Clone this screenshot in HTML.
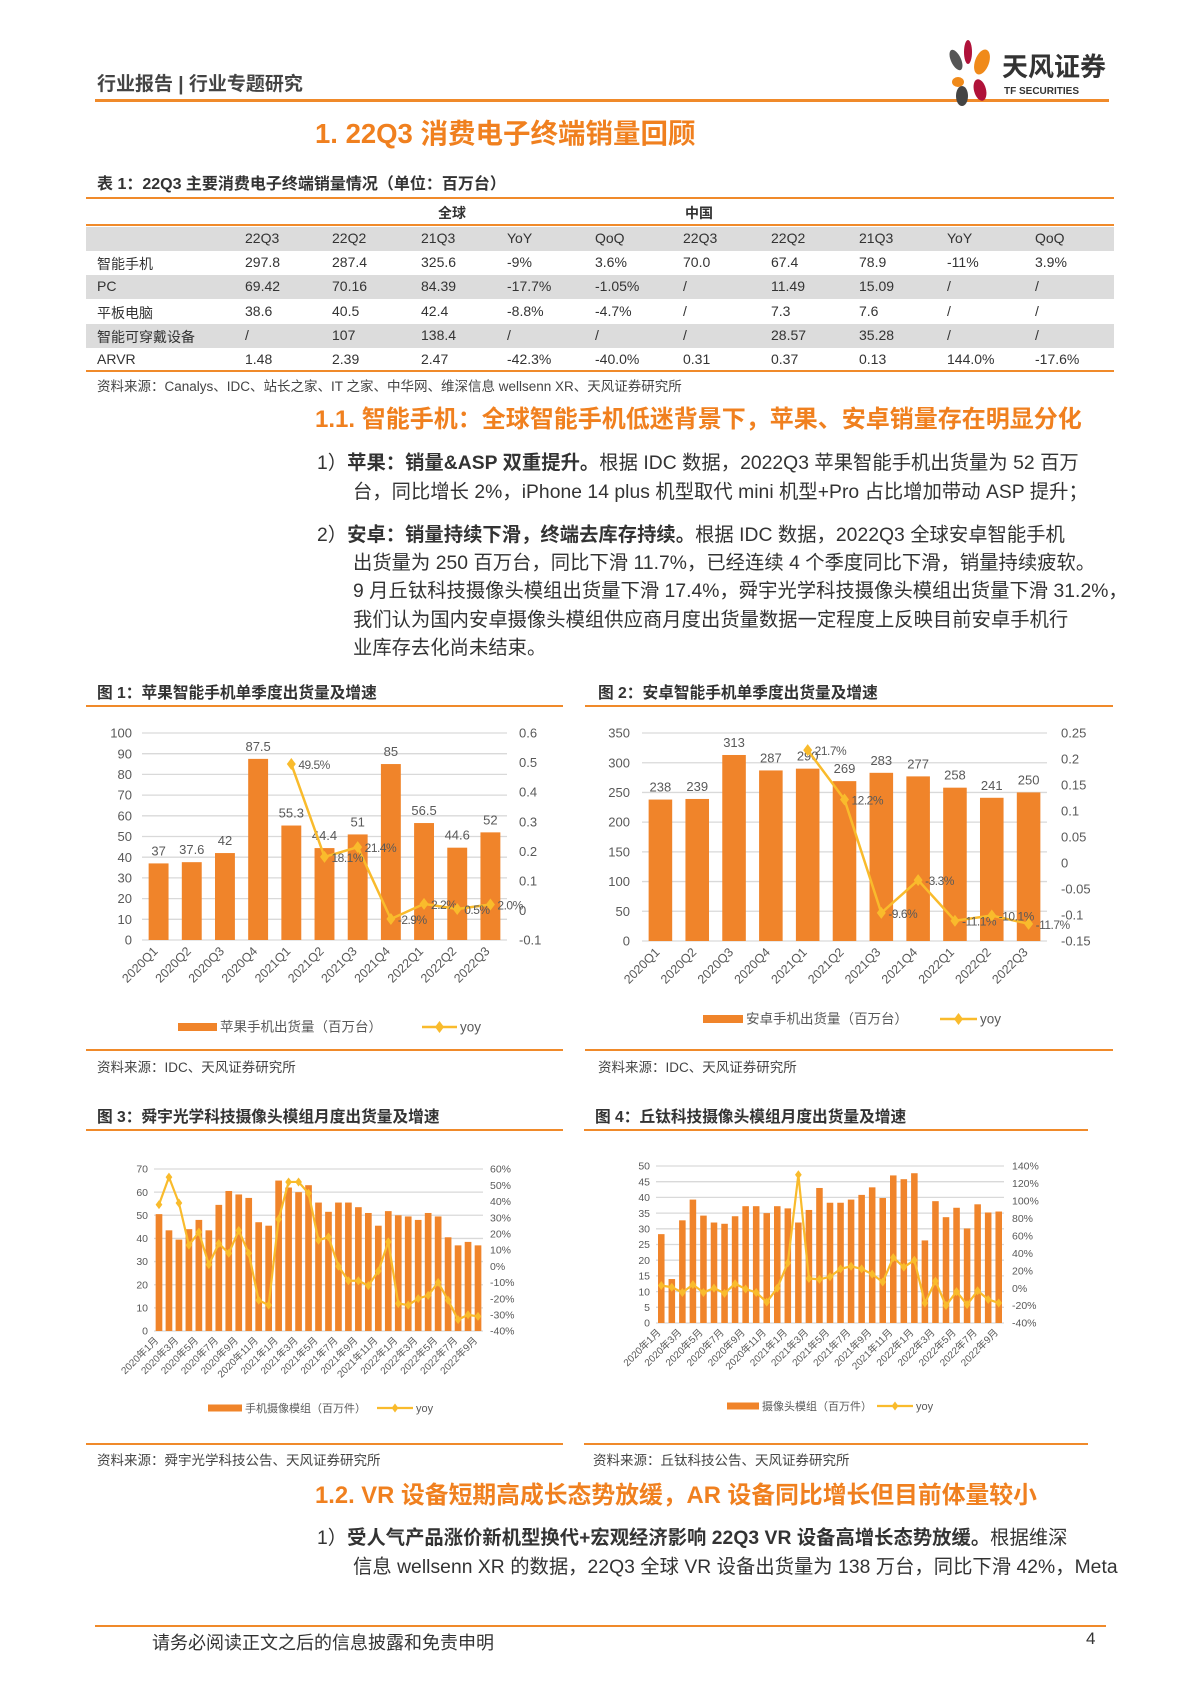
<!DOCTYPE html>
<html><head><meta charset="utf-8">
<style>
body{margin:0;background:#fff;}
#page{position:relative;width:1190px;height:1683px;overflow:hidden;font-family:"Liberation Sans","Noto Sans CJK SC",sans-serif;color:#333;}
.t{position:absolute;white-space:nowrap;}
.hl{position:absolute;height:2px;background:#f08a2a;}
.sec{color:#f0801f;font-size:24px;font-weight:bold;}
.p{font-size:19.3px;color:#333;letter-spacing:0.05px;}
.p b{font-weight:bold;}
.row{position:absolute;left:86px;width:1028px;height:24px;}
.cell{position:absolute;font-size:14px;top:3px;}
svg text{font-family:"Liberation Sans","Noto Sans CJK SC",sans-serif;}
</style></head>
<body>
<div id="page">
<div class="t" style="left:97px;top:69px;font-size:19px;font-weight:bold;color:#444;">行业报告 | 行业专题研究</div>
<div class="hl" style="left:95px;top:99px;width:1014px;height:3px;"></div>
<svg style="position:absolute;left:940px;top:38px" width="175" height="70">
<ellipse cx="16" cy="22" rx="5" ry="11" fill="#555" transform="rotate(-25 16 22)"/>
<ellipse cx="28" cy="14" rx="4" ry="12" fill="#b0123a"/>
<ellipse cx="42" cy="24" rx="7" ry="13" fill="#f08a1a" transform="rotate(20 42 24)"/>
<ellipse cx="18" cy="44" rx="6" ry="5" fill="#f08a1a"/>
<ellipse cx="22" cy="58" rx="6" ry="10" fill="#444"/>
<ellipse cx="40" cy="52" rx="6" ry="11" fill="#b0123a" transform="rotate(-15 40 52)"/>
<text x="62" y="38" font-size="26" font-weight="bold" fill="#333">天风证券</text>
<text x="64" y="56" font-size="10" font-weight="bold" fill="#333">TF SECURITIES</text>
</svg>
<div class="t" style="left:315px;top:111px;font-size:27.5px;font-weight:bold;color:#f0801f;">1. 22Q3 消费电子终端销量回顾</div>
<div class="t" style="left:97px;top:170px;font-size:16px;font-weight:bold;color:#333;">表 1：22Q3 主要消费电子终端销量情况（单位：百万台）</div>
<div class="hl" style="left:86px;top:197px;width:1028px;"></div>
<div class="t" style="left:438px;top:203px;font-size:14px;font-weight:bold;">全球</div>
<div class="t" style="left:685px;top:203px;font-size:14px;font-weight:bold;">中国</div>
<div class="hl" style="left:86px;top:224px;width:1028px;"></div>
<div id="tbl"></div>
<div class="hl" style="left:86px;top:370px;width:1028px;height:1.5px;"></div>
<div class="t" style="left:97px;top:375px;font-size:13.5px;color:#444;">资料来源：Canalys、IDC、站长之家、IT 之家、中华网、维深信息 wellsenn XR、天风证券研究所</div>
<div class="t sec" style="left:315px;top:399px;">1.1. 智能手机：全球智能手机低迷背景下，苹果、安卓销量存在明显分化</div>
<div class="t p" style="left:317px;top:449px;line-height:29px;">1）<b>苹果：销量&amp;ASP 双重提升。</b>根据 IDC 数据，2022Q3 苹果智能手机出货量为 52 百万<br><span style="padding-left:36px">台，同比增长 2%，iPhone 14 plus 机型取代 mini 机型+Pro 占比增加带动 ASP 提升；</span></div>
<div class="t p" style="left:317px;top:522px;line-height:28.2px;">2）<b>安卓：销量持续下滑，终端去库存持续。</b>根据 IDC 数据，2022Q3 全球安卓智能手机<br><span style="padding-left:36px">出货量为 250 百万台，同比下滑 11.7%，已经连续 4 个季度同比下滑，销量持续疲软。</span><br><span style="padding-left:36px">9 月丘钛科技摄像头模组出货量下滑 17.4%，舜宇光学科技摄像头模组出货量下滑 31.2%，</span><br><span style="padding-left:36px">我们认为国内安卓摄像头模组供应商月度出货量数据一定程度上反映目前安卓手机行</span><br><span style="padding-left:36px">业库存去化尚未结束。</span></div>

<div class="t" style="left:97px;top:680px;font-size:15.7px;font-weight:bold;">图 1：苹果智能手机单季度出货量及增速</div>
<div class="hl" style="left:86px;top:705px;width:477px;"></div>
<div class="t" style="left:598px;top:680px;font-size:15.7px;font-weight:bold;">图 2：安卓智能手机单季度出货量及增速</div>
<div class="hl" style="left:585px;top:705px;width:528px;"></div>
<div class="hl" style="left:86px;top:1049px;width:477px;height:1.5px;"></div>
<div class="hl" style="left:585px;top:1049px;width:528px;height:1.5px;"></div>
<div class="t" style="left:97px;top:1056px;font-size:13.5px;color:#444;">资料来源：IDC、天风证券研究所</div>
<div class="t" style="left:598px;top:1056px;font-size:13.5px;color:#444;">资料来源：IDC、天风证券研究所</div>

<div class="t" style="left:97px;top:1104px;font-size:15.7px;font-weight:bold;">图 3：舜宇光学科技摄像头模组月度出货量及增速</div>
<div class="hl" style="left:86px;top:1129px;width:477px;"></div>
<div class="t" style="left:595px;top:1104px;font-size:15.7px;font-weight:bold;">图 4：丘钛科技摄像头模组月度出货量及增速</div>
<div class="hl" style="left:584px;top:1129px;width:504px;"></div>
<div class="hl" style="left:86px;top:1443px;width:477px;height:1.5px;"></div>
<div class="hl" style="left:584px;top:1443px;width:504px;height:1.5px;"></div>
<div class="t" style="left:97px;top:1449px;font-size:13.5px;color:#444;">资料来源：舜宇光学科技公告、天风证券研究所</div>
<div class="t" style="left:593px;top:1449px;font-size:13.5px;color:#444;">资料来源：丘钛科技公告、天风证券研究所</div>

<div class="t sec" style="left:315px;top:1475px;font-size:23.8px;">1.2. VR 设备短期高成长态势放缓，AR 设备同比增长但目前体量较小</div>
<div class="t p" style="left:317px;top:1524px;line-height:29px;">1）<b>受人气产品涨价新机型换代+宏观经济影响 22Q3 VR 设备高增长态势放缓。</b>根据维深<br><span style="padding-left:36px">信息 wellsenn XR 的数据，22Q3 全球 VR 设备出货量为 138 万台，同比下滑 42%，Meta</span></div>
<div class="hl" style="left:95px;top:1625px;width:1011px;"></div>
<div class="t" style="left:152px;top:1629px;font-size:18px;">请务必阅读正文之后的信息披露和免责申明</div>
<div class="t" style="left:1086px;top:1629px;font-size:17px;">4</div>
<svg id="charts" style="position:absolute;left:0;top:0" width="1190" height="1683"></svg>
</div>
<script>
// ---- table data ----
const tblHead=["","22Q3","22Q2","21Q3","YoY","QoQ","22Q3","22Q2","21Q3","YoY","QoQ"];
const tblRows=[
["智能手机","297.8","287.4","325.6","-9%","3.6%","70.0","67.4","78.9","-11%","3.9%"],
["PC","69.42","70.16","84.39","-17.7%","-1.05%","/","11.49","15.09","/","/"],
["平板电脑","38.6","40.5","42.4","-8.8%","-4.7%","/","7.3","7.6","/","/"],
["智能可穿戴设备","/","107","138.4","/","/","/","28.57","35.28","/","/"],
["ARVR","1.48","2.39","2.47","-42.3%","-40.0%","0.31","0.37","0.13","144.0%","-17.6%"]];
const colX=[97,245,332,421,507,595,683,771,859,947,1035];
(function(){
  const host=document.getElementById('tbl');
  const all=[tblHead].concat(tblRows);
  all.forEach((r,i)=>{
    const row=document.createElement('div');
    row.className='row';
    
    
    row.style.top=(227+i*24.2)+'px';
    if(i%2===0) row.style.background='#dcdcdc';
    r.forEach((c,j)=>{
      const d=document.createElement('div');
      d.className='cell';
      
      
      d.style.left=(colX[j]-86)+'px';
      d.textContent=c;
      row.appendChild(d);
    });
    host.appendChild(row);
  });
})();

// ---- chart data ----
const qCats=["2020Q1","2020Q2","2020Q3","2020Q4","2021Q1","2021Q2","2021Q3","2021Q4","2022Q1","2022Q2","2022Q3"];
const appleVals=[37,37.6,42,87.5,55.3,44.4,51,85,56.5,44.6,52];
const appleYoy=[null,null,null,null,0.495,0.181,0.214,-0.029,0.022,0.005,0.020];
const appleYoyLbl=[null,null,null,null,"49.5%","18.1%","21.4%","-2.9%","2.2%","0.5%","2.0%"];
const andVals=[238,239,313,287,290,269,283,277,258,241,250];
const andYoy=[null,null,null,null,0.217,0.122,-0.096,-0.033,-0.111,-0.101,-0.117];
const andYoyLbl=[null,null,null,null,"21.7%","12.2%","-9.6%","-3.3%","-11.1%","-10.1%","-11.7%"];
const mCats=[];
for(let y=2020;y<=2022;y++)for(let m=1;m<=12;m++){if(y===2022&&m>9)break;mCats.push(y+"年"+m+"月");}
const sunnyVals=[50.5,43.5,39.5,44,48,43.5,54.5,60.5,59,57.5,47,45.5,65,62,60,63,55.5,51.5,55.5,55.5,53.5,51,45.5,51.8,50,49.5,48,51,49.5,40.5,37,38.5,37];
const sunnyYoy=[38,55,39,13,21,1,14,8,22,8,-21,-24,29,52,52,45,16,18,0,-9,-9,-12,-3,15,-23,-24,-20,-18,-10,-21,-33,-30,-31];
const qtVals=[28.3,14,32.7,39.3,34.2,32,31.6,34,37.2,37.2,35,37.2,36.5,32,36,43,38.3,38.3,39.3,40.8,43.2,39.8,47,45.8,47.7,26.3,38.8,33.7,36.7,30.1,37.8,35.2,35.5];
const qtYoy=[3,1,-5,4,-5,0,-6,5,-1,-5,-16,0,29,130,11,10,13,22,25,22,16,7,35,24,32,-17,8,-20,-4,-19,-3,-13,-17];

const NS="http://www.w3.org/2000/svg";
const svg=document.getElementById('charts');
const BAR="#f0842a", LINE="#f9bb2c", TXT="#595959";
function el(tag,attrs,parent){const e=document.createElementNS(NS,tag);for(const k in attrs)e.setAttribute(k,attrs[k]);(parent||svg).appendChild(e);return e;}
function txt(x,y,s,size,anchor,parent,extra){const t=el('text',Object.assign({x:x,y:y,'font-size':size,fill:TXT,'text-anchor':anchor||'start'},extra||{}),parent);t.textContent=s;return t;}

function chart(o){
  const g=el('g',{});
  
  
  const n=o.cats.length, cw=(o.x1-o.x0)/n;
  const yL=v=>o.y0-(v-o.lmin)/(o.lmax-o.lmin)*(o.y0-o.y1);
  const yR=v=>o.y0-(v-o.rmin)/(o.rmax-o.rmin)*(o.y0-o.y1);
  const xC=i=>o.x0+cw*(i+0.5);
  o.lticks.forEach(v=>{
    el('line',{x1:o.x0,x2:o.x1,y1:yL(v),y2:yL(v),stroke:'#d9d9d9','stroke-width':1.3},g);
    const t=txt(o.x0-o.lpad,yL(v)+o.fs*0.35,String(v),o.fs,'end',g);
    
  });
  o.rticks.forEach((v,i)=>{
    const t=txt(o.x1+o.rpad,yR(v)+o.fs*0.35,o.rlbl[i],o.fs,'start',g);
    
  });
  o.vals.forEach((v,i)=>{
    const r=el('rect',{x:xC(i)-cw*o.bw/2,y:yL(v),width:cw*o.bw,height:yL(o.lmin)-yL(v),fill:BAR},g);
    
    
    if(o.barLbl){const t=txt(xC(i),yL(v)-8,String(v),o.fs,'middle',g);}
  });
  const pts=[];
  o.yoy.forEach((v,i)=>{if(v!==null)pts.push([xC(i),yR(v),i]);});
  const pl=el('polyline',{points:pts.map(p=>p[0]+','+p[1]).join(' '),fill:'none',stroke:LINE,'stroke-width':o.lw},g);
  
  
  pts.forEach(p=>{
    const d=el('path',{d:`M${p[0]},${p[1]-o.ms}L${p[0]+o.ms*0.75},${p[1]}L${p[0]},${p[1]+o.ms}L${p[0]-o.ms*0.75},${p[1]}Z`,fill:LINE},g);
    
    
    if(o.yoyLbl){const t=txt(p[0]+7,p[1]+5,o.yoyLbl[p[2]],o.fs-1,'start',g,{'letter-spacing':'-0.5'});}
  });
  o.cats.forEach((c,i)=>{
    if(o.every && i%o.every!==0) return;
    const x=xC(i), y=o.y0+o.xoff;
    const t=txt(x,y,c,o.xfs,'end',g,{transform:`rotate(-45 ${x} ${y})`});
    
  });
  const L=o.leg;
  const sw=el('rect',{x:L.x,y:L.y-o.lgh/2,width:L.w,height:o.lgh,fill:BAR},g);
  
  const lt=txt(L.x+L.w+3,L.y+o.lfs*0.35,o.legText,o.lfs,'start',g);
  el('line',{x1:L.lx,x2:L.lx+L.lw,y1:L.y,y2:L.y,stroke:LINE,'stroke-width':o.lw},g);
  const m=(L.lx+L.lx+L.lw)/2;
  el('path',{d:`M${m},${L.y-o.ms}L${m+o.ms*0.75},${L.y}L${m},${L.y+o.ms}L${m-o.ms*0.75},${L.y}Z`,fill:LINE},g);
  const yt=txt(L.lx+L.lw+3,L.y+o.lfs*0.35,'yoy',o.lfs,'start',g);
}

chart({name:'apple-chart',cats:qCats,vals:appleVals,yoy:appleYoy,yoyLbl:appleYoyLbl,barLbl:true,
 x0:142,x1:507,y0:940,y1:733,lmin:0,lmax:100,rmin:-0.1,rmax:0.6,
 lticks:[0,10,20,30,40,50,60,70,80,90,100],rticks:[-0.1,0,0.1,0.2,0.3,0.4,0.5,0.6],rlbl:["-0.1","0","0.1","0.2","0.3","0.4","0.5","0.6"],
 lpad:10,rpad:12,fs:13,bw:0.6,lw:2.5,ms:6,xoff:12,xfs:12.5,
 leg:{x:178,y:1027,w:39,lx:422,lw:35},lgh:8,lfs:13.5,legText:'苹果手机出货量（百万台）'});
chart({name:'android-chart',cats:qCats,vals:andVals,yoy:andYoy,yoyLbl:andYoyLbl,barLbl:true,
 x0:642,x1:1047,y0:941,y1:733,lmin:0,lmax:350,rmin:-0.15,rmax:0.25,
 lticks:[0,50,100,150,200,250,300,350],rticks:[-0.15,-0.1,-0.05,0,0.05,0.1,0.15,0.2,0.25],rlbl:["-0.15","-0.1","-0.05","0","0.05","0.1","0.15","0.2","0.25"],
 lpad:12,rpad:14,fs:13,bw:0.64,lw:2.5,ms:6,xoff:12,xfs:12.5,
 leg:{x:703,y:1019,w:40,lx:940,lw:37},lgh:8,lfs:13.5,legText:'安卓手机出货量（百万台）'});
chart({name:'sunny-chart',cats:mCats,vals:sunnyVals,yoy:sunnyYoy,yoyLbl:null,barLbl:false,
 x0:154,x1:483,y0:1331,y1:1169,lmin:0,lmax:70,rmin:-40,rmax:60,
 lticks:[0,10,20,30,40,50,60,70],rticks:[-40,-30,-20,-10,0,10,20,30,40,50,60],rlbl:["-40%","-30%","-20%","-10%","0%","10%","20%","30%","40%","50%","60%"],
 lpad:6,rpad:7,fs:10.5,bw:0.67,lw:2.2,ms:4.5,xoff:10,xfs:10,every:2,
 leg:{x:208,y:1408,w:34,lx:377,lw:36},lgh:7,lfs:11,legText:'手机摄像模组（百万件）'});
chart({name:'qtech-chart',cats:mCats,vals:qtVals,yoy:qtYoy,yoyLbl:null,barLbl:false,
 x0:656,x1:1004,y0:1323,y1:1166,lmin:0,lmax:50,rmin:-40,rmax:140,
 lticks:[0,5,10,15,20,25,30,35,40,45,50],rticks:[-40,-20,0,20,40,60,80,100,120,140],rlbl:["-40%","-20%","0%","20%","40%","60%","80%","100%","120%","140%"],
 lpad:6,rpad:8,fs:10.5,bw:0.62,lw:2.2,ms:4.5,xoff:10,xfs:10,every:2,
 leg:{x:727,y:1406,w:32,lx:877,lw:36},lgh:7,lfs:11,legText:'摄像头模组（百万件）'});
</script>
</body></html>
